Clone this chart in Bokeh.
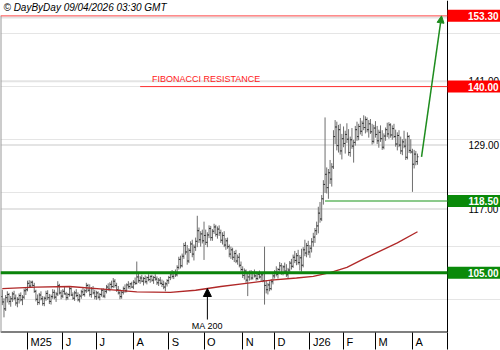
from bokeh.plotting import figure
from bokeh.models import (ColumnDataSource, FixedTicker, Label, Arrow, NormalHead, Range1d)
from bokeh.core.properties import value
from bokeh.embed import file_html
from bokeh.resources import INLINE
import numpy as np

FONT = "Liberation Sans"

# ---------------- data (daily bars, 9 Apr 2025 -> Apr 2026) ----------------
opens = [
    100.5, 99.5, 98.2, 100.3, 100.9, 99.6, 100.1, 101.0, 100.2, 99.3,
    100.0, 100.7, 99.9, 100.4, 101.6, 101.8, 103.0, 102.5, 103.2, 102.6,
    101.5, 100.0, 99.4, 100.8, 100.1, 99.2, 100.2, 101.1, 100.3, 99.6,
    100.5, 101.3, 100.4, 101.0, 102.6, 101.2, 100.6, 101.5, 101.0, 100.3,
    100.9, 102.0, 100.8, 100.2, 101.2, 100.7, 99.9, 100.6, 101.4, 100.9,
    101.6, 102.6, 101.7, 100.9, 102.0, 101.2, 100.5, 101.2, 100.4, 100.9,
    101.7, 100.6, 101.5, 102.3, 101.9, 102.8, 102.4, 103.4, 102.6, 101.8,
    101.2, 100.5, 101.3, 102.0, 101.6, 102.7, 102.4, 102.9, 102.3, 103.2,
    103.0, 104.2, 103.5, 104.0, 103.4, 103.9, 103.3, 104.1, 103.7, 104.3,
    103.6, 104.1, 103.8, 103.1, 103.6, 103.0, 102.8, 102.3, 102.9, 103.5,
    104.1, 104.8, 104.3, 105.0, 104.6, 106.0, 107.5, 106.3, 108.1, 110.1,
    108.9, 107.2, 109.2, 110.4, 108.5, 109.8, 110.9, 112.9, 111.2, 112.3,
    111.0, 112.0, 110.7, 112.1, 113.3, 111.6, 112.8, 113.6, 112.2, 113.2,
    112.5, 111.1, 112.0, 110.2, 111.0, 109.9, 108.5, 109.3, 107.9, 108.6,
    107.2, 107.9, 106.4, 105.6, 104.5, 105.3, 103.6, 104.2, 104.9, 104.0,
    105.0, 104.4, 103.9, 104.7, 104.2, 104.6, 103.5, 102.6, 101.8, 102.7,
    102.0, 103.3, 104.4, 105.1, 104.7, 105.6, 106.3, 105.0, 106.1, 105.3,
    104.6, 105.5, 106.8, 106.2, 107.9, 107.3, 108.2, 106.9, 107.8, 106.4,
    109.3, 108.7, 110.1, 108.9, 109.6, 110.8, 111.7, 112.9, 113.8, 116.2,
    115.1, 118.9, 121.6, 123.5, 121.0, 123.8, 122.6, 124.9, 130.6, 132.4,
    128.9, 131.9, 127.9, 130.2, 129.3, 131.0, 130.1, 127.6, 130.0, 128.8,
    129.5, 131.9, 130.6, 132.5, 131.6, 133.1, 132.3, 133.8, 131.9, 133.0,
    131.5, 129.7, 132.2, 131.0, 129.8, 131.4, 130.2, 128.6, 130.7, 131.9,
    131.1, 132.8, 130.9, 132.1, 130.6, 129.2, 130.8, 129.0, 127.9, 129.6,
    128.8, 126.7, 130.6, 128.0, 127.7, 125.4, 127.3, 125.9,
]
highs = [
    101.8, 100.2, 100.8, 101.5, 101.2, 100.6, 101.4, 101.6, 100.9, 100.4,
    101.1, 101.3, 100.8, 102.0, 102.3, 103.5, 103.6, 103.5, 103.5, 103.1,
    101.8, 100.9, 101.2, 101.5, 100.6, 100.5, 101.6, 101.7, 101.0, 100.9,
    101.9, 101.8, 101.4, 103.4, 102.9, 101.7, 101.9, 102.3, 101.4, 101.2,
    102.4, 102.2, 101.3, 101.6, 101.9, 101.3, 101.0, 101.8, 102.1, 101.9,
    103.1, 102.9, 102.8, 102.3, 102.5, 101.8, 101.6, 101.5, 101.2, 102.0,
    102.1, 101.9, 102.7, 103.0, 103.2, 103.5, 104.0, 103.8, 103.1, 102.5,
    101.9, 101.6, 102.4, 102.8, 103.0, 103.4, 103.1, 103.3, 103.6, 104.1,
    107.1, 104.8, 104.4, 104.6, 104.2, 104.5, 104.3, 104.7, 104.5, 104.6,
    104.4, 104.7, 104.3, 104.0, 104.2, 103.7, 103.5, 103.2, 103.8, 104.4,
    105.2, 105.5, 105.3, 105.6, 106.4, 108.0, 108.2, 108.6, 110.6, 110.8,
    110.2, 109.6, 110.9, 111.2, 110.3, 111.6, 115.7, 113.5, 112.8, 113.1,
    114.6, 113.1, 112.6, 113.9, 113.8, 113.2, 114.2, 114.0, 113.7, 113.9,
    113.1, 112.6, 112.8, 111.5, 111.6, 110.3, 109.9, 109.7, 109.1, 109.3,
    108.4, 108.7, 107.1, 106.2, 105.8, 105.6, 104.9, 105.4, 105.5, 105.3,
    105.6, 105.2, 105.1, 105.4, 104.9, 105.0, 109.9, 103.6, 103.1, 103.4,
    103.8, 104.9, 105.5, 106.2, 105.9, 107.0, 106.8, 106.4, 106.9, 106.6,
    105.9, 107.2, 107.6, 108.4, 109.1, 108.7, 109.3, 108.3, 109.5, 109.8,
    111.2, 110.6, 111.0, 110.2, 111.5, 112.5, 113.4, 114.6, 117.4, 118.3,
    119.6, 122.4, 134.2, 124.8, 124.5, 126.2, 125.6, 131.8, 133.7, 133.4,
    132.8, 133.0, 131.1, 132.5, 131.7, 133.1, 132.0, 130.6, 132.2, 130.0,
    132.6, 133.4, 133.0, 134.1, 133.6, 134.6, 134.4, 134.2, 133.7, 133.9,
    133.0, 132.8, 133.5, 132.6, 131.9, 132.7, 131.8, 131.2, 132.3, 133.2,
    133.3, 133.1, 132.7, 133.0, 131.9, 131.4, 131.8, 130.6, 130.1, 131.7,
    130.2, 131.4, 130.9, 130.1, 128.3, 128.1, 127.9, 127.4,
]
lows = [
    98.9, 96.6, 97.8, 99.4, 99.0, 98.6, 99.5, 99.8, 98.8, 98.5,
    99.2, 99.6, 98.9, 100.0, 100.8, 101.5, 102.3, 102.2, 102.4, 101.2,
    99.6, 98.9, 99.0, 99.8, 98.8, 98.7, 99.7, 99.9, 99.1, 99.0,
    100.1, 100.0, 99.5, 100.6, 100.9, 100.0, 100.2, 100.9, 99.8, 99.9,
    100.5, 100.6, 99.9, 99.7, 100.4, 99.6, 99.4, 100.1, 100.6, 100.5,
    101.2, 101.4, 100.5, 100.3, 100.9, 100.0, 99.9, 100.1, 99.8, 100.5,
    100.3, 100.2, 101.1, 101.6, 101.5, 102.0, 102.1, 102.2, 101.4, 100.9,
    100.0, 100.1, 100.9, 101.2, 101.3, 102.0, 101.9, 102.1, 101.9, 102.7,
    102.8, 103.1, 102.9, 103.2, 102.6, 103.0, 102.8, 103.4, 103.1, 103.3,
    102.9, 103.5, 102.7, 102.5, 102.8, 102.3, 101.9, 101.5, 102.4, 102.9,
    103.6, 103.9, 103.8, 104.2, 104.3, 105.6, 105.8, 106.0, 107.6, 108.4,
    106.5, 106.8, 108.7, 107.9, 107.3, 109.1, 109.8, 110.6, 109.9, 110.5,
    107.4, 110.2, 109.8, 111.5, 111.0, 111.0, 112.3, 111.8, 111.4, 111.9,
    110.6, 110.3, 109.8, 109.3, 109.5, 107.9, 107.6, 107.4, 107.0, 106.8,
    106.5, 106.0, 105.2, 104.0, 103.7, 103.1, 100.6, 103.5, 103.6, 103.7,
    104.1, 103.5, 103.6, 103.9, 103.4, 103.2, 99.0, 101.1, 100.9, 101.5,
    101.7, 102.8, 103.9, 104.3, 103.9, 105.2, 104.6, 104.5, 104.9, 104.2,
    104.0, 105.1, 105.6, 105.9, 106.8, 106.4, 106.5, 105.4, 105.2, 106.0,
    108.1, 107.9, 108.3, 107.8, 108.8, 109.9, 110.6, 112.1, 112.4, 114.4,
    114.7, 117.8, 120.0, 119.9, 118.9, 121.7, 121.2, 124.5, 129.2, 128.0,
    127.6, 127.2, 126.3, 128.6, 127.4, 129.4, 127.0, 126.8, 128.3, 125.7,
    128.9, 129.8, 129.9, 131.0, 130.7, 131.8, 131.2, 131.4, 130.4, 131.1,
    129.1, 129.3, 130.4, 129.2, 128.5, 129.6, 128.1, 128.2, 129.8, 130.5,
    130.2, 130.4, 130.0, 130.3, 128.7, 128.0, 128.6, 127.3, 127.1, 128.4,
    126.2, 126.3, 127.5, 127.4, 120.2, 124.6, 125.2, 125.3,
]
closes = [
    99.5, 98.2, 100.3, 100.9, 99.6, 100.1, 101.0, 100.2, 99.3, 100.0,
    100.7, 99.9, 100.4, 101.6, 101.8, 103.0, 102.5, 103.2, 102.6, 101.5,
    100.0, 99.4, 100.8, 100.1, 99.2, 100.2, 101.1, 100.3, 99.6, 100.5,
    101.3, 100.4, 101.0, 102.6, 101.2, 100.6, 101.5, 101.0, 100.3, 100.9,
    102.0, 100.8, 100.2, 101.2, 100.7, 99.9, 100.6, 101.4, 100.9, 101.6,
    102.6, 101.7, 100.9, 102.0, 101.2, 100.5, 101.2, 100.4, 100.9, 101.7,
    100.6, 101.5, 102.3, 101.9, 102.8, 102.4, 103.4, 102.6, 101.8, 101.2,
    100.5, 101.3, 102.0, 101.6, 102.7, 102.4, 102.9, 102.3, 103.2, 103.0,
    104.2, 103.5, 104.0, 103.4, 103.9, 103.3, 104.1, 103.7, 104.3, 103.6,
    104.1, 103.8, 103.1, 103.6, 103.0, 102.8, 102.3, 102.9, 103.5, 104.1,
    104.8, 104.3, 105.0, 104.6, 106.0, 107.5, 106.3, 108.1, 110.1, 108.9,
    107.2, 109.2, 110.4, 108.5, 109.8, 110.9, 112.9, 111.2, 112.3, 111.0,
    112.0, 110.7, 112.1, 113.3, 111.6, 112.8, 113.6, 112.2, 113.2, 112.5,
    111.1, 112.0, 110.2, 111.0, 109.9, 108.5, 109.3, 107.9, 108.6, 107.2,
    107.9, 106.4, 105.6, 104.5, 105.3, 103.6, 104.2, 104.9, 104.0, 105.0,
    104.4, 103.9, 104.7, 104.2, 104.6, 103.5, 102.6, 101.8, 102.7, 102.0,
    103.3, 104.4, 105.1, 104.7, 105.6, 106.3, 105.0, 106.1, 105.3, 104.6,
    105.5, 106.8, 106.2, 107.9, 107.3, 108.2, 106.9, 107.8, 106.4, 109.3,
    108.7, 110.1, 108.9, 109.6, 110.8, 111.7, 112.9, 113.8, 116.2, 115.1,
    118.9, 121.6, 123.5, 121.0, 123.8, 122.6, 124.9, 130.6, 132.4, 128.9,
    131.9, 127.9, 130.2, 129.3, 131.0, 130.1, 127.6, 130.0, 128.8, 129.5,
    131.9, 130.6, 132.5, 131.6, 133.1, 132.3, 133.8, 131.9, 133.0, 131.5,
    129.7, 132.2, 131.0, 129.8, 131.4, 130.2, 128.6, 130.7, 131.9, 131.1,
    132.8, 130.9, 132.1, 130.6, 129.2, 130.8, 129.0, 127.9, 129.6, 128.8,
    126.7, 130.6, 128.0, 127.7, 125.4, 127.3, 125.9, 126.8,
]

# 200-day moving average (read at sparse bar positions)
ma_idx = [0, 20, 40, 60, 80, 100, 115, 130, 145, 160, 175, 185, 195, 205, 215, 225, 235, 247]
ma_val = [102.0, 102.3, 102.4, 101.9, 101.4, 101.3, 101.7, 102.4, 103.0, 103.6,
          104.0, 104.3, 105.0, 106.0, 107.6, 109.1, 110.6, 112.7]

# month boundaries (bar index of first session) and labels
month_ticks = [15, 36, 56, 78, 99, 120, 143, 162, 183, 203, 222, 244]
month_labels = ["M25", "J", "J", "A", "S", "O", "N", "D", "J26", "F", "M", "A"]

y_ticks = [105, 117, 129, 141, 153]

target = 153.30
fib_resistance = 140.00
support_1 = 118.50
support_2 = 105.00
fib_start_bar = 82
support_start_bar = 192
ma_arrow_bar = 122

# ---------------- geometry ----------------
FW, FH = 500, 333            # plot frame (whole width, down to the date axis)
px_x = 1.681                 # pixels per bar
px_y = 5.3333                # pixels per price unit
X0 = -1.07
X1 = X0 + FW / px_x
Y1 = 156.19
Y0 = Y1 - FH / px_y


def dx(px):
    return X0 + px / px_x


def dy(px):
    return Y1 - px / px_y


XR = dx(447)                 # right price-scale line

p = figure(width=500, height=350, x_range=Range1d(X0, X1), y_range=Range1d(Y0, Y1),
           output_backend="svg", toolbar_location=None, y_axis_location=None,
           min_border_left=0, min_border_right=0, min_border_top=0, min_border_bottom=17)
p.outline_line_color = None
p.background_fill_color = "white"
p.border_fill_color = "white"
p.xgrid.visible = False

# ---- date axis (bokeh axis) ----
CW = {"M": .833, "J": .5, "A": .667, "S": .667, "O": .778, "N": .722, "D": .722,
      "F": .611, "2": .556, "5": .556, "6": .556}
label_pos = [m + (3 + 11 * sum(CW[c] for c in lab) / 2) / px_x
             for m, lab in zip(month_ticks, month_labels)]
xax = p.xaxis[0]
xax.ticker = FixedTicker(ticks=label_pos, minor_ticks=month_ticks + [XR])
xax.major_label_overrides = {pos: lab for pos, lab in zip(label_pos, month_labels)}
xax.major_tick_out = 0
xax.major_tick_in = 0
xax.minor_tick_out = 17
xax.minor_tick_in = 0
xax.minor_tick_line_color = "black"
xax.axis_line_color = None
xax.major_label_standoff = -14
xax.major_label_text_font = FONT
xax.major_label_text_font_size = "11px"
xax.major_label_text_color = "black"

# ---- grid + price scale ----
p.segment(x0=[X0] * len(y_ticks), y0=y_ticks, x1=[XR] * len(y_ticks), y1=y_ticks,
          line_color="#e4e4e4", line_width=2)
p.text(x=[dx(468)] * len(y_ticks), y=y_ticks, text=[f"{t:.2f}" for t in y_ticks],
       text_align="left", text_baseline="middle", text_font=value(FONT),
       text_font_size="10px", text_color="black")
p.segment(x0=[XR], y0=[Y0], x1=[XR], y1=[Y1], line_color="black", line_width=1)
p.segment(x0=[X0], y0=[Y0], x1=[XR], y1=[Y0], line_color="black", line_width=2)
p.segment(x0=[X0], y0=[Y0], x1=[X0], y1=[target], line_color="#9a9a9a", line_width=2)

# ---- horizontal levels ----
p.segment(x0=[X0], y0=[target], x1=[XR], y1=[target], line_color="#ff4a4a", line_width=1)
p.segment(x0=[fib_start_bar], y0=[fib_resistance], x1=[XR], y1=[fib_resistance],
          line_color="#ff3030", line_width=1)
p.segment(x0=[support_start_bar], y0=[support_1], x1=[XR], y1=[support_1],
          line_color="#66b866", line_width=1.5)

# ---- OHLC bars ----
N = len(closes)
bar_i = list(range(N))
src = ColumnDataSource(dict(i=bar_i, o=opens, h=highs, l=lows, c=closes,
                            il=[i - 0.6 for i in bar_i], ir=[i + 0.6 for i in bar_i]))
p.segment(x0="i", y0="l", x1="i", y1="h", source=src, line_color="#6e6e6e", line_width=1)
p.segment(x0="il", y0="o", x1="i", y1="o", source=src, line_color="#2a2a2a", line_width=1)
p.segment(x0="i", y0="c", x1="ir", y1="c", source=src, line_color="#2a2a2a", line_width=1)

# ---- MA 200 ----
p.line(ma_idx, ma_val, line_color="#b02828", line_width=1.3)

p.segment(x0=[X0], y0=[support_2], x1=[XR], y1=[support_2], line_color="#0a840a", line_width=3)

# ---- price boxes ----
RED, GREEN = "#ff0000", "#0a8a0a"
box_vals = [target, fib_resistance, support_1, support_2]
box_cols = [RED, RED, GREEN, GREEN]
p.rect(x=[dx(473.5)] * 4, y=box_vals, width=53, height=12, width_units="screen",
       height_units="screen", fill_color=box_cols, line_color=None)
p.text(x=[dx(498)] * 4, y=box_vals, text=[f"{v:.2f}" for v in box_vals],
       text_align="right", text_baseline="middle", text_font=value(FONT),
       text_font_size="10px", text_font_style="bold", text_color="white")

# ---- annotations ----
ma_tip = float(np.interp(ma_arrow_bar, ma_idx, ma_val))
p.add_layout(Arrow(x_start=ma_arrow_bar, y_start=dy(320), x_end=ma_arrow_bar, y_end=ma_tip,
                   line_color="black", line_width=1,
                   end=NormalHead(size=8, fill_color="black", line_color="black")))
p.add_layout(Label(x=ma_arrow_bar, y=dy(326), text="MA 200", text_align="center",
                   text_baseline="middle", text_font=FONT, text_font_size="9px",
                   text_color="black"))

p.add_layout(Arrow(x_start=N - 1 + 2.4, y_start=closes[-1], x_end=N - 1 + 14.3, y_end=target,
                   line_color="#1e8c1e", line_width=1.5,
                   end=NormalHead(size=7, fill_color="#1e8c1e", line_color="#1e8c1e")))

p.add_layout(Label(x=fib_start_bar + 7, y=dy(79), text="FIBONACCI RESISTANCE",
                   text_font=FONT, text_font_size="9px", text_color="#ff2020",
                   text_baseline="middle"))

p.add_layout(Label(x=dx(3), y=dy(7), text="© DayByDay 09/04/2026 03:30 GMT",
                   text_font=FONT, text_font_size="10px", text_font_style="italic",
                   text_baseline="middle", text_color="black"))

open("out.html", "w").write(file_html(p, INLINE))
